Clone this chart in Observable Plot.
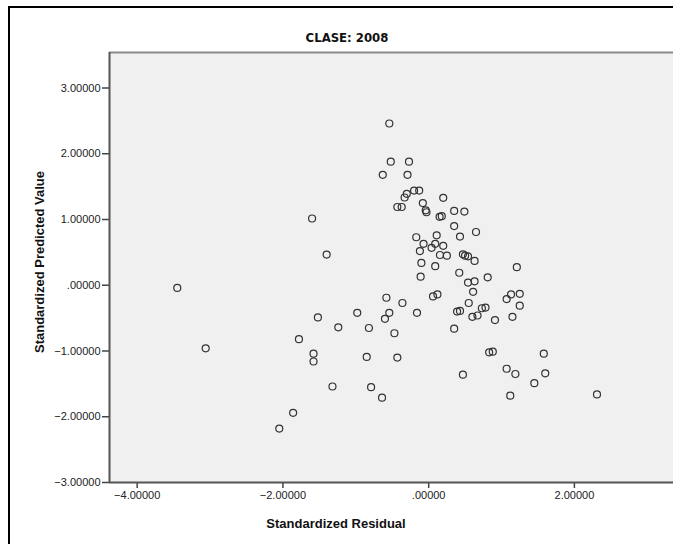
<!DOCTYPE html>
<html>
<head>
<meta charset="utf-8">
<script src="https://cdn.jsdelivr.net/npm/d3@7"></script>
<script src="https://cdn.jsdelivr.net/npm/@observablehq/plot@0.6"></script>
<style>
  html, body { margin: 0; padding: 0; background: #fff; }
  #wrap { position: relative; width: 673px; height: 544px; overflow: hidden; font-family: "Liberation Sans", Arial, sans-serif; }
  #border { position: absolute; left: 8px; top: 6px; width: 700px; height: 600px; border-left: 2px solid #000; border-top: 2px solid #000; box-sizing: border-box; }
  #chart { position: absolute; left: 0; top: 0; }
  .lbl { position: absolute; font-weight: bold; color: #111; white-space: nowrap; }
  #title { left: 347px; top: 37px; transform: translate(-50%, -50%); font-family: "Liberation Sans Narrow", "DejaVu Sans Condensed", Arial, sans-serif; font-size: 13px; }
  #xlab { left: 336px; top: 523px; transform: translate(-50%, -50%); font-size: 13px; }
  #ylab { left: 39px; top: 262px; transform: translate(-50%, -50%) rotate(-90deg); font-size: 13px; }
</style>
</head>
<body>
<div id="wrap">
  <div id="border"></div>
  <div id="chart"></div>
  <div class="lbl" id="title">CLASE: 2008</div>
  <div class="lbl" id="xlab">Standardized Residual</div>
  <div class="lbl" id="ylab">Standardized Predicted Value</div>
</div>
<script>
// Standardized Residual (x) and Standardized Predicted Value (y)
const residual = [
  -1.60, -1.40, -3.45, -1.52, -0.54, -0.52, -0.27, -0.63, -0.29, -0.20,
  -0.13, -0.30, -0.33, 0.20, -0.08, -0.43, -0.37, -0.04, -0.03, 0.35,
  0.49, 0.15, 0.18, 0.35, 0.65, -0.17, 0.11, 0.43, -0.07, 0.09,
  0.20, 0.04, -0.12, 0.155, 0.25, 0.47, 0.50, 0.54, 0.63, -0.10,
  0.09, 1.21, 0.42, -0.11, 0.81, 0.54, 0.63, 0.61, -0.58, 0.06,
  0.12, 1.13, 1.25, 1.07, -0.36, 0.55, 1.25, -0.54, -0.60, -0.16,
  0.39, 0.43, 0.60, 0.67, 0.73, 0.78, 0.91, 1.15, 0.35, -0.47,
  -0.43, 0.83, 0.88, 1.58, 0.47, 1.07, 1.19, 1.60, 1.45, 1.12,
  2.31, -0.64, -3.06, -0.98, -1.24, -0.82, -1.78, -1.58, -1.58, -0.85,
  -1.32, -0.79, -1.86, -2.05
];
const predicted = [
  1.015, 0.467, -0.04, -0.49, 2.46, 1.88, 1.88, 1.68, 1.68, 1.44,
  1.44, 1.39, 1.335, 1.33, 1.25, 1.19, 1.19, 1.14, 1.11, 1.13,
  1.12, 1.04, 1.05, 0.90, 0.81, 0.73, 0.76, 0.74, 0.63, 0.63,
  0.60, 0.57, 0.52, 0.46, 0.45, 0.47, 0.45, 0.44, 0.37, 0.34,
  0.29, 0.275, 0.19, 0.13, 0.12, 0.04, 0.06, -0.10, -0.19, -0.17,
  -0.14, -0.14, -0.13, -0.21, -0.27, -0.27, -0.31, -0.42, -0.51, -0.42,
  -0.40, -0.39, -0.48, -0.46, -0.35, -0.34, -0.53, -0.48, -0.66, -0.73,
  -1.10, -1.02, -1.01, -1.04, -1.36, -1.27, -1.35, -1.34, -1.49, -1.68,
  -1.66, -1.71, -0.96, -0.42, -0.64, -0.65, -0.82, -1.04, -1.16, -1.09,
  -1.54, -1.55, -1.94, -2.18
];
const xTicks = [-4, -2, 0, 2];
const yTicks = [-3, -2, -1, 0, 1, 2, 3];
const xDomain = [-4.38, 3.36];
const yDomain = [-3, 3.54];

const points = residual.map((r, i) => ({x: r, y: predicted[i]}));
const fmt = d => d3.format(".5f")(d).replace(/^(-?)0\./, "$1.");

const chart = Plot.plot({
  width: 673,
  height: 544,
  marginLeft: 109,
  marginTop: 52,
  marginBottom: 62,
  marginRight: 0,
  style: { background: "transparent", fontFamily: "'Liberation Sans', Arial, sans-serif", fontSize: "11px", color: "#222" },
  x: { domain: xDomain },
  y: { domain: yDomain },
  marks: [
    Plot.frame({ fill: "#f0f0f0", stroke: "none" }),
    Plot.ruleY([yDomain[1]], { stroke: "#8a8a8a", strokeWidth: 2 }),
    Plot.axisX({ ticks: xTicks, tickFormat: fmt, tickSize: 6, tickPadding: 3, label: null, stroke: "#444", strokeWidth: 1.5 }),
    Plot.axisY({ ticks: yTicks, tickFormat: fmt, tickSize: 7, tickPadding: 2, label: null, stroke: "#444", strokeWidth: 1.5 }),
    Plot.ruleX([xDomain[0]], { stroke: "#555", strokeWidth: 2 }),
    Plot.ruleY([yDomain[0]], { stroke: "#555", strokeWidth: 2 }),
    Plot.dot(points, { x: "x", y: "y", r: 3.5, fill: "none", stroke: "#333", strokeWidth: 1.2 })
  ]
});
document.getElementById("chart").appendChild(chart);
</script>
</body>
</html>
